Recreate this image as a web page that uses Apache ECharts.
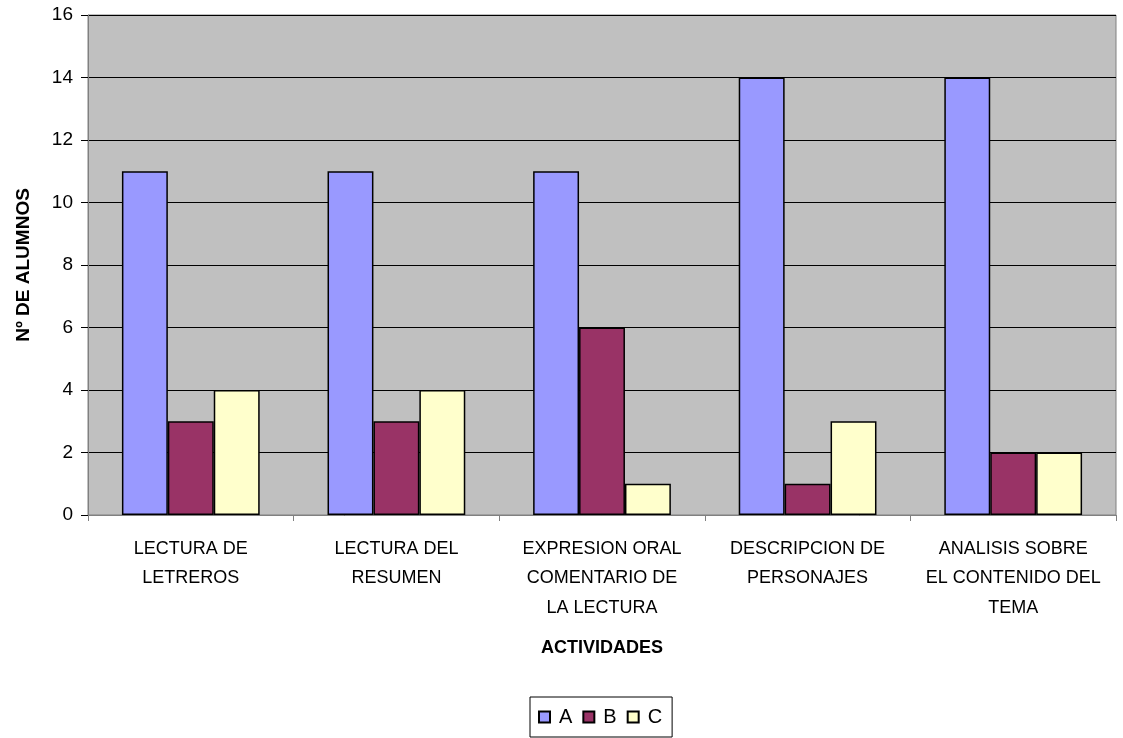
<!DOCTYPE html>
<html>
<head>
<meta charset="utf-8">
<script src="https://cdn.jsdelivr.net/npm/echarts@6/dist/echarts.min.js"></script>
<style>
  html, body { margin: 0; padding: 0; background: #fff; }
  #chart { width: 1123px; height: 738px; }
</style>
</head>
<body>
<div id="chart"></div>
<script>
const categories = [
  'LECTURA DE\nLETREROS',
  'LECTURA DEL\nRESUMEN',
  'EXPRESION ORAL\nCOMENTARIO DE\nLA LECTURA',
  'DESCRIPCION DE\nPERSONAJES',
  'ANALISIS SOBRE\nEL CONTENIDO DEL\nTEMA'
]
const seriesA = [11, 11, 11, 14, 14]
const seriesB = [3, 3, 6, 1, 2]
const seriesC = [4, 4, 1, 3, 2]

const chart = echarts.init(document.getElementById('chart'))
const font = 'Liberation Sans, Arial, sans-serif'

function bar (name, data, color) {
  return {
    name: name,
    type: 'bar',
    data: data,
    barGap: 0,
    barCategoryGap: '33%',
    itemStyle: { color: color, borderColor: '#000', borderWidth: 1.5 }
  }
}

chart.setOption({
  animation: false,
  textStyle: { fontFamily: font },
  grid: {
    left: 88, right: 7, top: 15, bottom: 223,
    show: true, backgroundColor: '#c0c0c0', borderColor: '#808080', borderWidth: 1
  },
  legend: {
    bottom: 1,
    left: 530,
    data: ['A', 'B', 'C'],
    icon: 'rect',
    itemWidth: 11,
    itemHeight: 11,
    itemGap: 10,
    padding: [10, 10, 10, 8],
    borderColor: '#000',
    borderWidth: 1,
    textStyle: { fontSize: 20, color: '#000', fontFamily: font, padding: [0, 0, 0, 4] }
  },
  xAxis: {
    type: 'category',
    data: categories,
    name: 'ACTIVIDADES',
    nameLocation: 'middle',
    nameGap: 124,
    nameTextStyle: { fontSize: 18, fontWeight: 'bold', color: '#000' },
    axisLine: { lineStyle: { color: '#808080' } },
    axisTick: { show: true, alignWithLabel: false, length: 6, lineStyle: { color: '#808080' } },
    axisLabel: { fontSize: 18, color: '#000', lineHeight: 29.5, margin: 19, interval: 0 }
  },
  yAxis: {
    type: 'value',
    min: 0,
    max: 16,
    interval: 2,
    name: 'Nº DE ALUMNOS',
    nameLocation: 'middle',
    nameGap: 55,
    nameRotate: 90,
    nameTextStyle: { fontSize: 19, fontWeight: 'bold', color: '#000' },
    axisLine: { show: true, lineStyle: { color: '#808080' } },
    axisTick: { show: true, length: 7, lineStyle: { color: '#000' } },
    axisLabel: { fontSize: 19, color: '#000', margin: 15 },
    splitLine: { lineStyle: { color: '#000', width: 1 } }
  },
  series: [
    bar('A', seriesA, '#9999ff'),
    bar('B', seriesB, '#993366'),
    bar('C', seriesC, '#ffffcc')
  ]
})
</script>
</body>
</html>
